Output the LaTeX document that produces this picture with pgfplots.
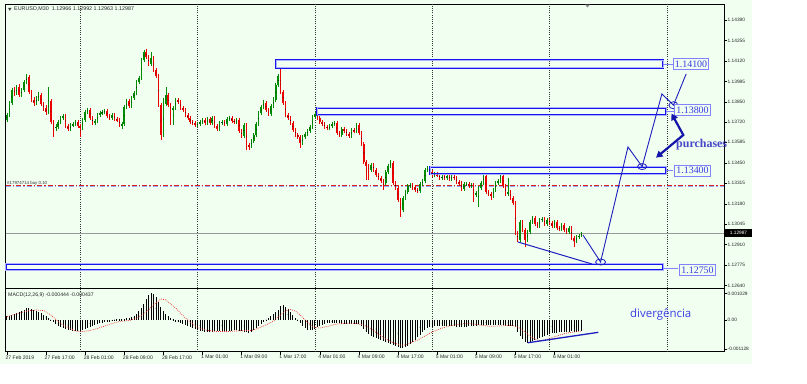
\documentclass[border=0pt]{standalone}
\usepackage{pgfplots}
\pgfplotsset{compat=1.18}
\usepackage{pgfplotstable}
\usepackage{fontspec}
\setmainfont{Liberation Sans}
\newfontfamily\serifb{Liberation Serif}
\newfontfamily\osans{Open Sans}
\usetikzlibrary{arrows.meta}
\definecolor{bg}{RGB}{240,255,240}
\definecolor{cup}{RGB}{0,140,0}
\definecolor{cdn}{RGB}{235,0,0}
\definecolor{zone}{RGB}{20,20,240}
\definecolor{zonein}{RGB}{175,175,255}
\definecolor{lbl}{RGB}{60,60,225}
\definecolor{lblbox}{RGB}{130,130,255}
\definecolor{navyb}{RGB}{20,20,170}
\definecolor{proj}{RGB}{30,30,190}
\definecolor{hist}{RGB}{110,110,110}
\definecolor{ordb}{RGB}{150,170,255}
\definecolor{ordr}{RGB}{220,30,30}
\definecolor{sigr}{RGB}{235,40,40}
\definecolor{purc}{RGB}{70,70,200}
\definecolor{divc}{RGB}{60,60,230}

% bullish candles (close >= open)
\pgfplotstableread{
x o h l c
0 1.13732 1.13778 1.13719 1.13765
1 1.13765 1.13857 1.13751 1.13844
2 1.13844 1.13942 1.13830 1.13929
4 1.13909 1.13962 1.13896 1.13949
6 1.13896 1.13942 1.13883 1.13929
7 1.13929 1.13995 1.13916 1.13982
8 1.13982 1.14035 1.13969 1.14015
12 1.13844 1.13890 1.13830 1.13870
13 1.13870 1.13916 1.13857 1.13896
17 1.13784 1.13949 1.13771 1.13857
20 1.13679 1.13705 1.13659 1.13686
21 1.13686 1.13732 1.13672 1.13719
22 1.13719 1.13758 1.13705 1.13745
23 1.13745 1.13771 1.13732 1.13758
26 1.13672 1.13712 1.13659 1.13699
27 1.13699 1.13719 1.13686 1.13705
28 1.13705 1.13732 1.13692 1.13719
31 1.13679 1.13745 1.13666 1.13732
32 1.13732 1.13798 1.13719 1.13784
33 1.13784 1.13811 1.13771 1.13798
36 1.13712 1.13738 1.13699 1.13725
37 1.13725 1.13778 1.13712 1.13765
38 1.13765 1.13791 1.13751 1.13778
39 1.13778 1.13798 1.13765 1.13784
40 1.13784 1.13804 1.13771 1.13791
43 1.13745 1.13778 1.13732 1.13765
47 1.13699 1.13719 1.13672 1.13705
48 1.13705 1.13830 1.13692 1.13817
49 1.13817 1.13870 1.13804 1.13857
51 1.13824 1.13890 1.13811 1.13877
52 1.13877 1.13923 1.13863 1.13909
53 1.13909 1.13995 1.13896 1.13982
54 1.13982 1.14021 1.13969 1.14008
55 1.14008 1.14140 1.13995 1.14127
56 1.14127 1.14193 1.14114 1.14180
59 1.14100 1.14180 1.14087 1.14140
64 1.13633 1.13877 1.13620 1.13837
65 1.13837 1.13949 1.13824 1.13896
68 1.13798 1.13824 1.13699 1.13811
69 1.13811 1.13877 1.13798 1.13863
78 1.13699 1.13719 1.13686 1.13705
79 1.13705 1.13732 1.13692 1.13719
80 1.13719 1.13745 1.13705 1.13732
82 1.13712 1.13751 1.13699 1.13738
84 1.13712 1.13758 1.13699 1.13745
87 1.13672 1.13725 1.13659 1.13712
88 1.13712 1.13732 1.13699 1.13719
90 1.13705 1.13751 1.13692 1.13738
91 1.13738 1.13758 1.13725 1.13745
94 1.13719 1.13745 1.13705 1.13732
97 1.13626 1.13712 1.13613 1.13699
100 1.13560 1.13607 1.13547 1.13593
101 1.13593 1.13646 1.13580 1.13633
102 1.13633 1.13719 1.13620 1.13705
103 1.13705 1.13791 1.13692 1.13778
104 1.13778 1.13830 1.13765 1.13817
105 1.13817 1.13863 1.13804 1.13844
108 1.13771 1.13837 1.13758 1.13824
109 1.13824 1.13883 1.13811 1.13863
110 1.13863 1.13975 1.13850 1.13962
111 1.13962 1.14035 1.13949 1.14021
121 1.13580 1.13633 1.13567 1.13620
122 1.13620 1.13653 1.13607 1.13640
123 1.13640 1.13672 1.13626 1.13659
124 1.13659 1.13699 1.13646 1.13686
125 1.13686 1.13765 1.13672 1.13751
126 1.13751 1.13784 1.13738 1.13771
132 1.13679 1.13705 1.13666 1.13692
133 1.13692 1.13719 1.13679 1.13705
134 1.13705 1.13725 1.13692 1.13712
137 1.13633 1.13686 1.13620 1.13672
141 1.13626 1.13679 1.13613 1.13666
143 1.13659 1.13712 1.13646 1.13699
149 1.13402 1.13449 1.13389 1.13435
155 1.13317 1.13402 1.13304 1.13389
156 1.13389 1.13442 1.13376 1.13429
157 1.13429 1.13468 1.13416 1.13449
162 1.13139 1.13231 1.13126 1.13218
163 1.13218 1.13271 1.13205 1.13258
164 1.13258 1.13310 1.13244 1.13297
165 1.13297 1.13317 1.13284 1.13304
169 1.13264 1.13323 1.13251 1.13310
170 1.13310 1.13343 1.13297 1.13330
171 1.13330 1.13416 1.13317 1.13402
172 1.13402 1.13429 1.13389 1.13416
175 1.13369 1.13389 1.13356 1.13376
178 1.13350 1.13369 1.13337 1.13356
180 1.13350 1.13376 1.13337 1.13363
182 1.13343 1.13369 1.13330 1.13356
187 1.13277 1.13323 1.13264 1.13310
188 1.13304 1.13323 1.13297 1.13310
190 1.13297 1.13317 1.13284 1.13304
192 1.13238 1.13264 1.13225 1.13251
193 1.13251 1.13297 1.13159 1.13284
194 1.13284 1.13330 1.13271 1.13317
195 1.13317 1.13383 1.13304 1.13363
199 1.13231 1.13284 1.13218 1.13271
200 1.13271 1.13330 1.13258 1.13317
201 1.13317 1.13343 1.13304 1.13330
202 1.13330 1.13383 1.13317 1.13363
205 1.13244 1.13350 1.13231 1.13258
210 1.12941 1.13073 1.12928 1.13060
213 1.12941 1.13007 1.12928 1.12994
214 1.12994 1.13073 1.12981 1.13060
215 1.13060 1.13099 1.13047 1.13086
218 1.13034 1.13086 1.13020 1.13073
219 1.13073 1.13093 1.13060 1.13080
221 1.13047 1.13086 1.13034 1.13073
224 1.13034 1.13073 1.13020 1.13060
227 1.13014 1.13053 1.13001 1.13040
230 1.12994 1.13034 1.12981 1.13020
233 1.12935 1.12974 1.12922 1.12961
234 1.12961 1.12981 1.12948 1.12968
235 1.12966 1.12992 1.12963 1.12987
}\upc

% bearish candles (close < open)
\pgfplotstableread{
x o h l c
3 1.13929 1.13949 1.13890 1.13909
5 1.13949 1.13969 1.13883 1.13896
9 1.14015 1.14028 1.13903 1.13916
10 1.13916 1.13929 1.13850 1.13863
11 1.13863 1.13883 1.13824 1.13844
14 1.13896 1.13909 1.13824 1.13837
15 1.13837 1.13850 1.13791 1.13811
16 1.13811 1.13830 1.13765 1.13784
18 1.13857 1.13870 1.13705 1.13719
19 1.13719 1.13732 1.13620 1.13679
24 1.13758 1.13771 1.13679 1.13692
25 1.13692 1.13705 1.13659 1.13672
29 1.13719 1.13732 1.13679 1.13692
30 1.13692 1.13705 1.13620 1.13679
34 1.13798 1.13811 1.13732 1.13745
35 1.13745 1.13758 1.13699 1.13712
41 1.13791 1.13804 1.13745 1.13758
42 1.13758 1.13771 1.13732 1.13745
44 1.13765 1.13778 1.13725 1.13738
45 1.13738 1.13751 1.13719 1.13732
46 1.13732 1.13745 1.13686 1.13699
50 1.13857 1.13870 1.13811 1.13824
57 1.14180 1.14199 1.14133 1.14147
58 1.14147 1.14160 1.14087 1.14100
60 1.14140 1.14153 1.14048 1.14061
61 1.14061 1.14074 1.14008 1.14021
62 1.14021 1.14035 1.13817 1.13830
63 1.13830 1.13844 1.13600 1.13633
66 1.13896 1.13909 1.13817 1.13830
67 1.13830 1.13844 1.13699 1.13798
70 1.13863 1.13877 1.13837 1.13850
71 1.13850 1.13863 1.13798 1.13811
72 1.13811 1.13824 1.13784 1.13798
73 1.13798 1.13811 1.13751 1.13765
74 1.13765 1.13778 1.13732 1.13745
75 1.13745 1.13758 1.13705 1.13719
76 1.13719 1.13732 1.13699 1.13712
77 1.13712 1.13725 1.13686 1.13699
81 1.13732 1.13745 1.13699 1.13712
83 1.13738 1.13751 1.13699 1.13712
85 1.13745 1.13758 1.13679 1.13692
86 1.13692 1.13705 1.13659 1.13672
89 1.13719 1.13732 1.13692 1.13705
92 1.13745 1.13758 1.13712 1.13725
93 1.13725 1.13738 1.13705 1.13719
95 1.13732 1.13745 1.13646 1.13659
96 1.13659 1.13672 1.13613 1.13626
98 1.13699 1.13712 1.13534 1.13567
99 1.13567 1.13580 1.13534 1.13560
106 1.13844 1.13857 1.13784 1.13798
107 1.13798 1.13811 1.13758 1.13771
112 1.14021 1.14081 1.13903 1.13916
113 1.13916 1.13929 1.13830 1.13844
114 1.13844 1.13857 1.13751 1.13765
115 1.13765 1.13778 1.13732 1.13745
116 1.13745 1.13758 1.13699 1.13712
117 1.13712 1.13725 1.13653 1.13666
118 1.13666 1.13679 1.13620 1.13633
119 1.13633 1.13646 1.13607 1.13620
120 1.13620 1.13633 1.13547 1.13580
127 1.13771 1.13791 1.13732 1.13745
128 1.13745 1.13758 1.13705 1.13719
129 1.13719 1.13732 1.13692 1.13705
130 1.13705 1.13719 1.13672 1.13686
131 1.13686 1.13699 1.13666 1.13679
135 1.13712 1.13725 1.13633 1.13646
136 1.13646 1.13659 1.13620 1.13633
138 1.13672 1.13686 1.13646 1.13659
139 1.13659 1.13672 1.13626 1.13640
140 1.13640 1.13653 1.13613 1.13626
142 1.13666 1.13679 1.13646 1.13659
144 1.13699 1.13712 1.13633 1.13646
145 1.13646 1.13659 1.13560 1.13574
146 1.13574 1.13587 1.13442 1.13455
147 1.13455 1.13468 1.13337 1.13429
148 1.13429 1.13442 1.13337 1.13402
150 1.13435 1.13449 1.13389 1.13402
151 1.13402 1.13416 1.13356 1.13369
152 1.13369 1.13383 1.13337 1.13350
153 1.13350 1.13363 1.13317 1.13330
154 1.13330 1.13343 1.13271 1.13317
158 1.13449 1.13462 1.13304 1.13317
159 1.13317 1.13330 1.13271 1.13284
160 1.13284 1.13297 1.13192 1.13205
161 1.13205 1.13218 1.13093 1.13139
166 1.13304 1.13317 1.13271 1.13290
167 1.13290 1.13304 1.13258 1.13271
168 1.13271 1.13284 1.13251 1.13264
173 1.13416 1.13429 1.13376 1.13389
174 1.13389 1.13402 1.13356 1.13369
176 1.13376 1.13389 1.13356 1.13369
177 1.13369 1.13383 1.13337 1.13350
179 1.13356 1.13383 1.13337 1.13350
181 1.13363 1.13376 1.13330 1.13343
183 1.13356 1.13369 1.13337 1.13350
184 1.13350 1.13363 1.13310 1.13323
185 1.13323 1.13337 1.13304 1.13317
186 1.13317 1.13330 1.13264 1.13277
189 1.13310 1.13323 1.13284 1.13297
191 1.13304 1.13317 1.13192 1.13238
196 1.13363 1.13376 1.13244 1.13258
197 1.13258 1.13271 1.13231 1.13244
198 1.13244 1.13258 1.13205 1.13231
203 1.13363 1.13376 1.13284 1.13297
204 1.13297 1.13310 1.13231 1.13244
206 1.13258 1.13271 1.13205 1.13218
207 1.13218 1.13231 1.13172 1.13185
208 1.13185 1.13198 1.12974 1.12987
209 1.12987 1.13001 1.12928 1.12941
211 1.13060 1.13073 1.12994 1.13007
212 1.13007 1.13020 1.12895 1.12941
216 1.13086 1.13099 1.13034 1.13047
217 1.13047 1.13060 1.13020 1.13034
220 1.13080 1.13093 1.13034 1.13047
222 1.13073 1.13086 1.13040 1.13053
223 1.13053 1.13067 1.13020 1.13034
225 1.13060 1.13073 1.13007 1.13020
226 1.13020 1.13034 1.13001 1.13014
228 1.13040 1.13053 1.12994 1.13007
229 1.13007 1.13020 1.12981 1.12994
231 1.13020 1.13034 1.12941 1.12955
232 1.12955 1.12968 1.12895 1.12935
}\dnc

\pgfplotstableread{
x m
0 0.000157
1 0.000176
2 0.000196
3 0.000235
4 0.000274
5 0.000314
6 0.000353
7 0.000392
8 0.000470
9 0.000451
10 0.000431
11 0.000392
12 0.000353
13 0.000314
14 0.000274
15 0.000196
16 0.000157
17 0.000078
18 0.000005
19 -0.000078
20 -0.000157
21 -0.000235
22 -0.000274
23 -0.000314
24 -0.000353
25 -0.000392
26 -0.000392
27 -0.000431
28 -0.000431
29 -0.000431
30 -0.000431
31 -0.000392
32 -0.000353
33 -0.000314
34 -0.000274
35 -0.000235
36 -0.000196
37 -0.000157
38 -0.000118
39 -0.000098
40 -0.000078
41 -0.000059
42 -0.000039
43 -0.000020
44 0.000012
45 0.000020
46 0.000020
47 0.000020
48 0.000039
49 0.000059
50 0.000078
51 0.000118
52 0.000157
53 0.000235
54 0.000353
55 0.000470
56 0.000627
57 0.000823
58 0.000980
59 0.001058
60 0.001019
61 0.000902
62 0.000706
63 0.000510
64 0.000353
65 0.000235
66 0.000157
67 0.000078
68 0.000039
69 -0.000039
70 -0.000078
71 -0.000118
72 -0.000157
73 -0.000196
74 -0.000235
75 -0.000274
76 -0.000314
77 -0.000353
78 -0.000392
79 -0.000431
80 -0.000431
81 -0.000470
82 -0.000470
83 -0.000470
84 -0.000470
85 -0.000431
86 -0.000431
87 -0.000431
88 -0.000431
89 -0.000431
90 -0.000431
91 -0.000431
92 -0.000431
93 -0.000392
94 -0.000392
95 -0.000431
96 -0.000431
97 -0.000470
98 -0.000470
99 -0.000510
100 -0.000470
101 -0.000392
102 -0.000314
103 -0.000235
104 -0.000157
105 -0.000078
106 0.000005
107 0.000078
108 0.000157
109 0.000235
110 0.000314
111 0.000392
112 0.000549
113 0.000588
114 0.000510
115 0.000431
116 0.000314
117 0.000196
118 0.000078
119 0.000005
120 -0.000118
121 -0.000235
122 -0.000314
123 -0.000392
124 -0.000392
125 -0.000392
126 -0.000353
127 -0.000274
128 -0.000235
129 -0.000196
130 -0.000157
131 -0.000118
132 -0.000118
133 -0.000118
134 -0.000118
135 -0.000118
136 -0.000118
137 -0.000157
138 -0.000157
139 -0.000157
140 -0.000157
141 -0.000157
142 -0.000157
143 -0.000157
144 -0.000157
145 -0.000235
146 -0.000353
147 -0.000470
148 -0.000549
149 -0.000627
150 -0.000666
151 -0.000706
152 -0.000745
153 -0.000784
154 -0.000823
155 -0.000862
156 -0.000902
157 -0.000941
158 -0.000980
159 -0.001019
160 -0.001058
161 -0.001098
162 -0.001098
163 -0.001058
164 -0.001019
165 -0.000941
166 -0.000862
167 -0.000784
168 -0.000666
169 -0.000588
170 -0.000470
171 -0.000392
172 -0.000314
173 -0.000274
174 -0.000274
175 -0.000235
176 -0.000235
177 -0.000235
178 -0.000235
179 -0.000235
180 -0.000235
181 -0.000235
182 -0.000235
183 -0.000235
184 -0.000274
185 -0.000274
186 -0.000274
187 -0.000274
188 -0.000274
189 -0.000235
190 -0.000235
191 -0.000235
192 -0.000235
193 -0.000196
194 -0.000196
195 -0.000196
196 -0.000196
197 -0.000196
198 -0.000196
199 -0.000196
200 -0.000196
201 -0.000196
202 -0.000196
203 -0.000196
204 -0.000235
205 -0.000235
206 -0.000235
207 -0.000235
208 -0.000274
209 -0.000470
210 -0.000627
211 -0.000745
212 -0.000862
213 -0.000902
214 -0.000862
215 -0.000823
216 -0.000784
217 -0.000745
218 -0.000706
219 -0.000666
220 -0.000627
221 -0.000588
222 -0.000549
223 -0.000510
224 -0.000510
225 -0.000510
226 -0.000470
227 -0.000470
228 -0.000470
229 -0.000470
230 -0.000470
231 -0.000431
232 -0.000470
233 -0.000470
234 -0.000431
235 -0.000444
}\macd

\pgfplotstableread{
x s
0 0.000129
3 0.000216
6 0.000294
9 0.000365
12 0.000392
15 0.000372
18 0.000196
20 0.000020
22 -0.000137
25 -0.000294
28 -0.000431
31 -0.000451
34 -0.000412
37 -0.000333
40 -0.000235
43 -0.000137
46 -0.000059
48 -0.000039
51 0.000000
54 0.000118
57 0.000314
60 0.000588
62 0.000745
63 0.000823
65 0.000784
67 0.000627
69 0.000470
71 0.000274
73 0.000078
75 -0.000078
77 -0.000235
79 -0.000333
82 -0.000404
86 -0.000451
90 -0.000451
93 -0.000431
96 -0.000419
100 -0.000412
103 -0.000314
106 -0.000196
109 -0.000039
112 0.000196
114 0.000353
116 0.000412
118 0.000353
120 0.000196
122 0.000000
124 -0.000176
126 -0.000294
128 -0.000314
131 -0.000255
134 -0.000176
137 -0.000137
140 -0.000129
143 -0.000137
146 -0.000196
149 -0.000353
152 -0.000549
155 -0.000745
158 -0.000882
161 -0.000980
163 -0.000980
165 -0.000902
168 -0.000784
171 -0.000627
174 -0.000470
177 -0.000353
180 -0.000255
183 -0.000196
186 -0.000157
189 -0.000137
192 -0.000176
195 -0.000216
198 -0.000247
201 -0.000235
204 -0.000216
207 -0.000216
209 -0.000274
211 -0.000392
213 -0.000549
215 -0.000686
217 -0.000784
219 -0.000804
221 -0.000764
223 -0.000686
225 -0.000627
227 -0.000568
229 -0.000510
232 -0.000470
235 -0.000437
}\signal

\pgfplotsset{mtfour/.style={
  scale only axis, width=718.3bp, xmin=-0.5, xmax=293.4,
  axis line style={black, line width=0.7bp},
  tick style={black, line width=0.5bp}, major tick length=3bp, tick align=outside,
  ytick pos=right, yticklabel pos=right, scaled y ticks=false, scaled x ticks=false,
  yticklabel style={font=\fontsize{4.8}{5}\selectfont, anchor=west, inner sep=0.5bp, text=black!85},
  clip=false,
  extra x ticks={30,78,126,174,222,270}, extra x tick labels={},
  extra x tick style={grid=major, major tick length=0pt,
    major grid style={black!80, dash pattern=on 1bp off 1.2bp, line width=0.5bp}},
},
nomark/.style={only marks, mark=*, mark size=0.01pt, mark options={draw=none, fill=none}, forget plot}}

\begin{document}
\begin{tikzpicture}
\useasboundingbox (0bp,0bp) rectangle (807bp,-384bp);
\clip (0bp,0bp) rectangle (807bp,-384bp);
\fill[white] (0bp,0bp) rectangle (807bp,-384bp);
\fill[bg] (0bp,0bp) rectangle (752bp,-364bp);

% ---------------- main price panel (plotted in pips above 1.12000) ----------------
\begin{axis}[mtfour, at={(5.7bp,-288.3bp)}, anchor=south west, height=284bp,
  ymin=62.3, ymax=249.4, xtick=\empty,
  ytick={239,225.5,212,198.5,185,172,158.5,145,131.5,118,104.5,91,77.5,64},
  yticklabels={1.14390,1.14255,1.14120,1.13985,1.13850,1.13720,1.13585,1.13450,1.13315,1.13180,1.13045,1.12910,1.12775,1.12640}]
% reference lines
\draw[black!40, line width=0.6bp] (axis cs:-0.5,98.7) -- (axis cs:293.4,98.7);
\draw[ordb, line width=1.1bp, dash pattern=on 5bp off 2bp on 1.5bp off 2bp] (axis cs:-0.5,129.3) -- (axis cs:293.4,129.3);
\draw[ordr, line width=0.7bp, dash pattern=on 5bp off 2bp on 1.5bp off 2bp] (axis cs:-0.5,130.1) -- (axis cs:293.4,130.1);
% wicks
\addplot[nomark,
  error bars/.cd, y dir=both, y explicit, error mark=none, error bar style={cup, line width=0.55bp}]
  table[x=x, y expr=(\thisrow{h}+\thisrow{l}-2.24)*5000, y error expr=(\thisrow{h}-\thisrow{l})*5000] {\upc};
\addplot[nomark,
  error bars/.cd, y dir=both, y explicit, error mark=none, error bar style={cdn, line width=0.55bp}]
  table[x=x, y expr=(\thisrow{h}+\thisrow{l}-2.24)*5000, y error expr=(\thisrow{h}-\thisrow{l})*5000] {\dnc};
% bodies
\addplot[nomark,
  error bars/.cd, y dir=both, y explicit, error mark=none, error bar style={cup, line width=1.5bp}]
  table[x=x, y expr=(\thisrow{o}+\thisrow{c}-2.24)*5000, y error expr=(\thisrow{c}-\thisrow{o})*5000+0.05] {\upc};
\addplot[nomark,
  error bars/.cd, y dir=both, y explicit, error mark=none, error bar style={cdn, line width=1.5bp}]
  table[x=x, y expr=(\thisrow{o}+\thisrow{c}-2.24)*5000, y error expr=(\thisrow{o}-\thisrow{c})*5000+0.05] {\dnc};
% zones
\draw[zone, line width=2.2bp] (axis cs:110.1,207.6) rectangle (axis cs:268.4,212.5);
\draw[zonein, line width=0.6bp] (axis cs:110.1,207.6) rectangle (axis cs:268.4,212.5);
\draw[zone, line width=2.2bp] (axis cs:126.9,176.3) rectangle (axis cs:269.7,181.3);
\draw[zonein, line width=0.6bp] (axis cs:126.9,176.3) rectangle (axis cs:269.7,181.3);
\draw[zone, line width=2.2bp] (axis cs:173.1,137.6) rectangle (axis cs:269.7,142.4);
\draw[zonein, line width=0.6bp] (axis cs:173.1,137.6) rectangle (axis cs:269.7,142.4);
\draw[zone, line width=2.2bp] (axis cs:-0.5,74.4) rectangle (axis cs:268.4,78.5);
\draw[zonein, line width=0.6bp] (axis cs:-0.5,74.4) rectangle (axis cs:268.4,78.5);
% projection
\draw[proj, line width=0.9bp] (axis cs:235.7,97.4) -- (axis cs:242.9,79.6) -- (axis cs:254.1,155.4) -- (axis cs:259.9,142.5) -- (axis cs:268.0,190.4) -- (axis cs:272.7,182.9) -- (axis cs:277.9,203.5);
\coordinate (e1) at (axis cs:242.9,79.6);
\coordinate (e2) at (axis cs:259.9,142.5);
\coordinate (e3) at (axis cs:272.7,182.9);
\draw[proj, line width=1bp] (axis cs:209.1,92.8) -- (axis cs:239.4,78.3);
\end{axis}
\draw[proj, line width=0.8bp] (e1) ellipse [x radius=5bp, y radius=3bp];
\draw[proj, line width=0.8bp] (e2) ellipse [x radius=4.5bp, y radius=3bp];
\draw[proj, line width=0.8bp] (e3) ellipse [x radius=4.5bp, y radius=3.5bp];

% ---------------- MACD panel (values plotted in units of 0.001) ----------------
\begin{axis}[mtfour, at={(5.7bp,-351.7bp)}, anchor=south west, height=63.4bp,
  ymin=-1.24, ymax=1.24,
  ytick={-1.128,0,1.029}, yticklabels={-0.001128,0.00,0.001029},
  xtick={0,16,32,48,64,80,96,112,128,144,160,176,192,208,224},
  xticklabels={27 Feb 2019,27 Feb 17:00,28 Feb 01:00,28 Feb 09:00,28 Feb 17:00,1 Mar 01:00,1 Mar 09:00,1 Mar 17:00,4 Mar 01:00,4 Mar 09:00,4 Mar 17:00,5 Mar 01:00,5 Mar 09:00,5 Mar 17:00,6 Mar 01:00},
  xtick pos=bottom,
  xticklabel style={font=\fontsize{5.1}{6}\selectfont, anchor=north west, inner sep=0pt, xshift=-1.5bp, yshift=-0.5bp, text=black!85}]
\addplot[nomark,
  error bars/.cd, y dir=both, y explicit, error mark=none, error bar style={hist, line width=0.85bp}]
  table[x=x, y expr=\thisrow{m}*500, y error expr=abs(\thisrow{m})*500] {\macd};
\addplot[sigr, line width=0.7bp, dash pattern=on 0.8bp off 1.2bp, forget plot] table[x=x, y expr=\thisrow{s}*1000] {\signal};
\draw[proj, line width=1.3bp] (axis cs:213.1,-0.89) -- (axis cs:242,-0.482);
\end{axis}

% ---------------- texts & annotations ----------------
\fill[black!75] (8bp,-7.8bp) -- (11.6bp,-7.8bp) -- (9.8bp,-10.8bp) -- cycle;
\node[anchor=west, inner sep=0, font=\fontsize{5.4}{6}\selectfont, text=black!85] at (14bp,-9.4bp) {EURUSD,M30\ \ 1.12966 1.12992 1.12963 1.12987};
\fill[black!45] (585bp,-4.5bp) -- (590bp,-4.5bp) -- (587.5bp,-7.5bp) -- cycle;
\node[anchor=west, inner sep=0, font=\fontsize{5.2}{6}\selectfont, text=black!85] at (8bp,-295.5bp) {MACD(12,26,9) -0.000444 -0.000437};
\node[anchor=west, inner sep=0, font=\fontsize{4.4}{5}\selectfont, text=black!80] at (7bp,-183.3bp) {\#17974714 buy 0.10};
% current price tag
\fill[black] (725bp,-229.3bp) rectangle (752bp,-237.3bp);
\node[inner sep=0, font=\fontsize{4.8}{5}\selectfont, text=white] at (738.5bp,-233.3bp) {1.12987};
% level labels
\tikzset{lvl/.style={draw=lblbox, line width=0.7bp, text=lbl, font=\serifb\fontsize{10}{11}\selectfont, inner sep=1.5bp, text height=7.3bp, text depth=0.7bp, fill=bg}}
\draw[lblbox, line width=0.8bp] (663bp,-64bp) -- (673bp,-64bp);
\node[lvl] at (691bp,-64.3bp) {1.14100};
\draw[lblbox, line width=0.8bp] (666bp,-111bp) -- (674bp,-111bp);
\node[lvl] at (692.5bp,-110.3bp) {1.13800};
\draw[lblbox, line width=0.8bp] (666bp,-170.5bp) -- (673bp,-170.5bp);
\node[lvl] at (692.5bp,-170.5bp) {1.13400};
\draw[lblbox, line width=0.8bp] (663bp,-268.5bp) -- (678bp,-268.5bp);
\node[lvl] at (697.5bp,-269.7bp) {1.12750};
% purchases
\node[anchor=base west, inner sep=0, font=\serifb\bfseries\fontsize{12}{13}\selectfont, text=purc] at (676bp,-147.5bp) {purchases};
\draw[navyb, line width=2.2bp, {Triangle[length=6.5bp, width=7bp]}-{Triangle[length=6.5bp, width=7bp]}] (671.5bp,-113.5bp) -- (683.3bp,-135bp) -- (656bp,-157.7bp);
% divergencia
\node[anchor=base west, inner sep=0, font=\osans\fontsize{11.5}{12}\selectfont, text=divc] at (630bp,-317.5bp) {divergência};
\end{tikzpicture}
\end{document}
